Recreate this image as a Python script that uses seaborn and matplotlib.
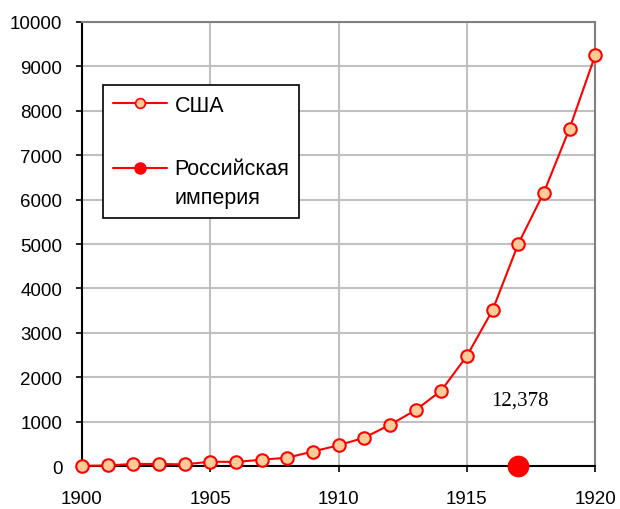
import matplotlib
matplotlib.use("Agg")
import matplotlib.pyplot as plt
import seaborn as sns
import pandas as pd
from matplotlib.lines import Line2D
from matplotlib.legend_handler import HandlerLine2D

# values in thousands
years = list(range(1900, 1921))
usa = [8, 15, 50, 50, 40, 100, 95, 145, 190, 330, 470,
       640, 930, 1260, 1700, 2480, 3510, 5000, 6160, 7600, 9250]
russia_year = [1917]
russia = [12.378]
russia_label = "12,378"

df = pd.DataFrame({"year": years, "usa": usa})

sns.set_style("white")
plt.rcParams["font.family"] = ["Liberation Sans", "DejaVu Sans"]
plt.rcParams["text.color"] = "black"

fig = plt.figure(figsize=(6.2, 5.1), dpi=100)
ax = fig.add_axes([0.132, 0.084, 0.828, 0.871])

orange = "#ffcc99"
sns.lineplot(data=df, x="year", y="usa", ax=ax, color="red", lw=1.5,
             marker="o", ms=9, markerfacecolor=orange, markeredgecolor="red",
             mew=1.5, clip_on=False, zorder=5)
sns.scatterplot(x=russia_year, y=russia, ax=ax, color="red", s=210,
                edgecolor="red", clip_on=False, zorder=6)

ax.text(russia_year[0] + 0.07, 1480, russia_label, family="Liberation Serif",
        fontsize=15, ha="center", va="center", color="black")

ax.set_xlim(1900, 1920)
ax.set_ylim(0, 10000)
ax.set_xticks(range(1900, 1921, 5))
ax.set_yticks(range(0, 10001, 1000))
ax.set_xlabel("")
ax.set_ylabel("")
ax.grid(True, color="#c0c0c0", lw=1.5)
ax.set_axisbelow(True)
for s in ["top", "right"]:
    ax.spines[s].set_color("#808080")
    ax.spines[s].set_linewidth(1.5)
for s in ["left", "bottom"]:
    ax.spines[s].set_color("black")
    ax.spines[s].set_linewidth(1.5)
ax.tick_params(axis="both", direction="out", length=4, width=1.2,
               color="black", labelsize=13.5, labelcolor="black", pad=10,
               left=True, bottom=True)
ax.tick_params(axis="x", pad=13)


class TopLineHandler(HandlerLine2D):
    # put the handle next to the first line of a two-line label
    def create_artists(self, legend, orig_handle, xdescent, ydescent,
                       width, height, fontsize, trans):
        arts = super().create_artists(legend, orig_handle, xdescent, ydescent,
                                      width, height, fontsize, trans)
        for a in arts:
            a.set_ydata([y + 0.74 * fontsize for y in a.get_ydata()])
        return arts


h_usa = Line2D([], [], color="red", lw=1.5, marker="o", ms=7,
               markerfacecolor=orange, markeredgecolor="red", mew=1.2)
h_rus = Line2D([], [], color="red", lw=1.5, marker="o", ms=8,
               markerfacecolor="red", markeredgecolor="red")
leg = ax.legend([h_usa, h_rus], ["США", "Российская\nимперия"], loc="upper left",
                bbox_to_anchor=(0.041, 0.858), borderaxespad=0, fontsize=15.5,
                frameon=True, fancybox=False, framealpha=1, edgecolor="black",
                handlelength=2.55, labelspacing=1.95, borderpad=0.45,
                handletextpad=0.33, labelcolor="black",
                handler_map={h_rus: TopLineHandler()})
leg.get_frame().set_linewidth(1.2)
leg.get_texts()[1].set_linespacing(1.55)

fig.savefig("out.png", dpi=100)
